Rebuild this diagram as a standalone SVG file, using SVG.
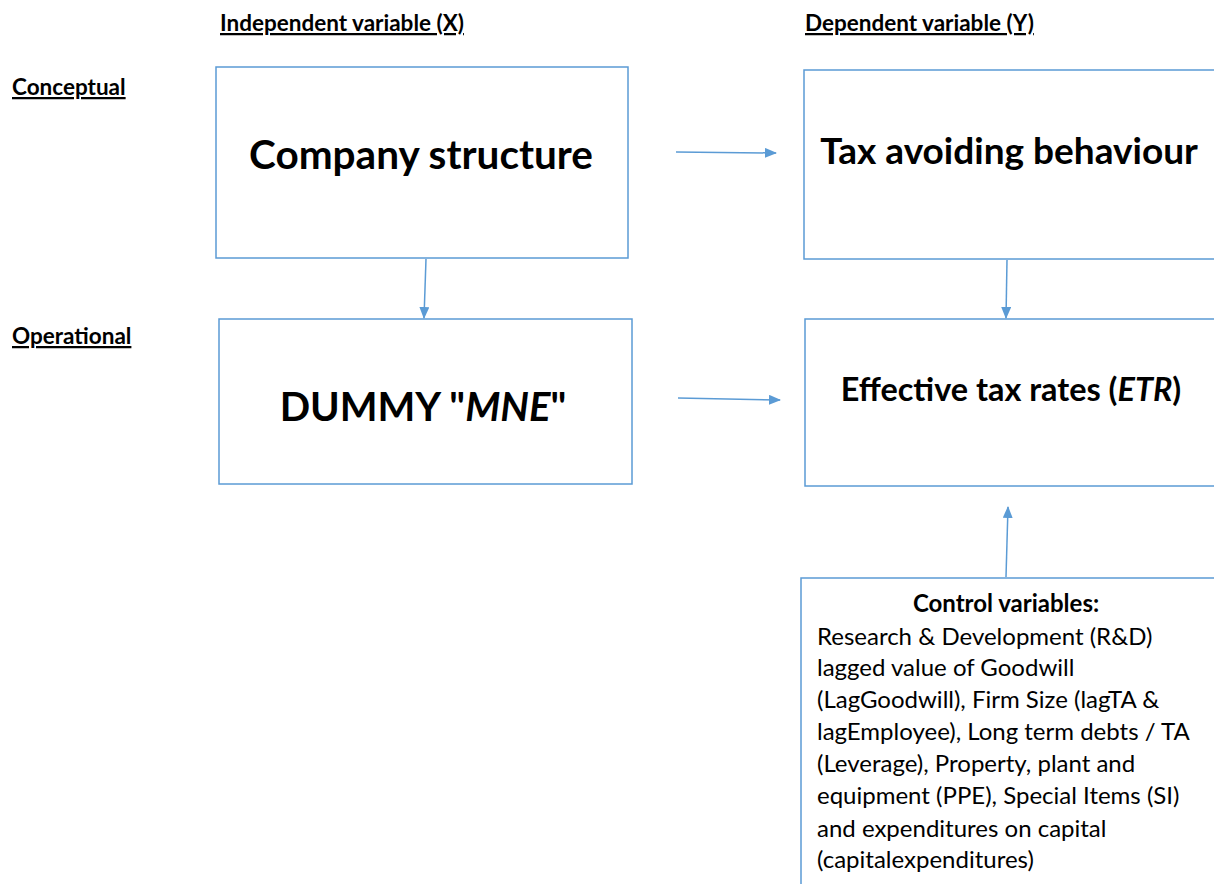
<svg xmlns="http://www.w3.org/2000/svg" width="1214" height="884" viewBox="0 0 1214 884">
<style>
text{font-family:Lato,"Noto Sans","Liberation Sans",sans-serif;fill:#000}
.hd{font-size:22.5px;font-weight:bold;text-decoration:underline}
.box{fill:#fff;stroke:#5B9BD5;stroke-width:1.5}
.big{font-weight:bold;text-anchor:middle}
.ctl{font-size:24px}
.cn{stroke:#5B9BD5;stroke-width:1.5;fill:none;marker-end:url(#ah)}
</style>
<defs>
<marker id="ah" markerWidth="12" markerHeight="10" refX="11" refY="5" orient="auto" markerUnits="userSpaceOnUse">
<path d="M0,0 L12,5 L0,10 Z" fill="#5B9BD5"/>
</marker>
</defs>
<rect width="1214" height="884" fill="#fff"/>
<g id="headers">
<text class="hd" x="220" y="31">Independent variable (X)</text>
<text class="hd" x="805" y="31">Dependent variable (Y)</text>
<text class="hd" x="12" y="95">Conceptual</text>
<text class="hd" x="12" y="344">Operational</text>
</g>
<g id="company">
<rect class="box" x="216" y="67" width="412" height="191"/>
<text class="big" x="421" y="169" font-size="40.5px">Company structure</text>
</g>
<g id="tax">
<rect class="box" x="804" y="70" width="420" height="189"/>
<text class="big" x="1009" y="164" font-size="37px">Tax avoiding behaviour</text>
</g>
<g id="dummy">
<rect class="box" x="219" y="319" width="413" height="165"/>
<text class="big" x="423" y="421" font-size="40px">DUMMY "<tspan font-style="italic">MNE</tspan>"</text>
</g>
<g id="etr">
<rect class="box" x="805" y="319" width="419" height="167"/>
<text class="big" x="1011" y="401" font-size="32.4px">Effective tax rates (<tspan font-style="italic">ETR</tspan>)</text>
</g>
<g id="controls">
<rect class="box" x="801" y="578" width="423" height="320"/>
<text x="1006" y="612" font-size="24px" font-weight="bold" text-anchor="middle">Control variables:</text>
<text class="ctl" x="817" y="645">Research &amp; Development (R&amp;D)</text>
<text class="ctl" x="817" y="676">lagged value of Goodwill</text>
<text class="ctl" x="817" y="708">(LagGoodwill), Firm Size (lagTA &amp;</text>
<text class="ctl" x="817" y="740">lagEmployee), Long term debts / TA</text>
<text class="ctl" x="817" y="772">(Leverage), Property, plant and</text>
<text class="ctl" x="817" y="804">equipment (PPE), Special Items (SI)</text>
<text class="ctl" x="817" y="837">and expenditures on capital</text>
<text class="ctl" x="817" y="868">(capitalexpenditures)</text>
</g>
<g id="connectors">
<line class="cn" x1="676" y1="152" x2="776" y2="153"/>
<line class="cn" x1="426" y1="259" x2="424" y2="318"/>
<line class="cn" x1="1007" y1="260" x2="1006" y2="318"/>
<line class="cn" x1="678" y1="398" x2="780" y2="400"/>
<line class="cn" x1="1006" y1="577" x2="1008" y2="507"/>
</g>
</svg>
